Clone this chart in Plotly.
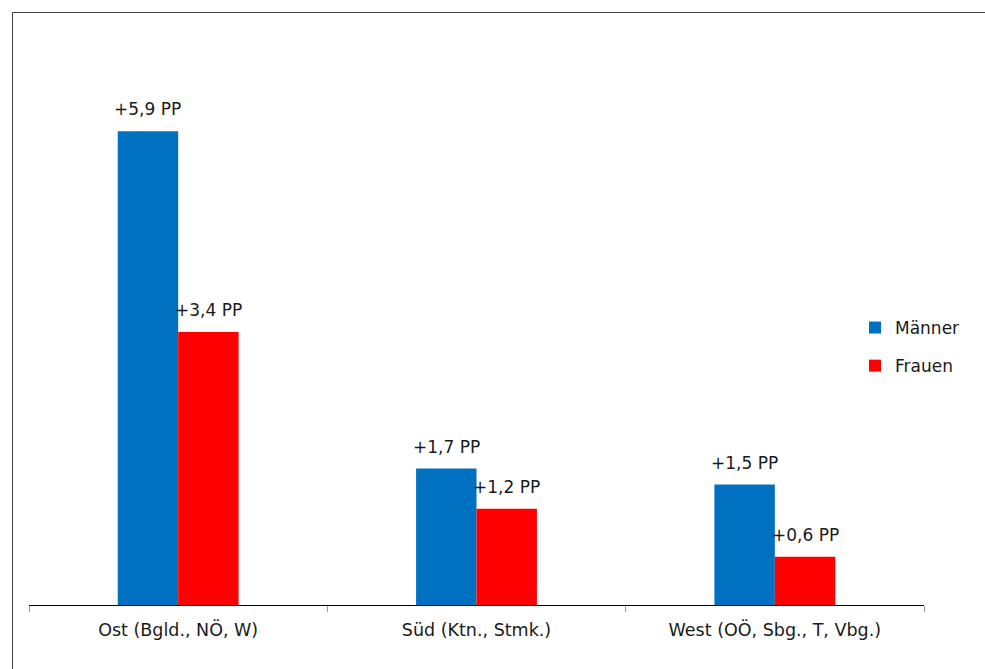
import plotly.graph_objects as go

regions = ["Ost (Bgld., NÖ, W)", "Süd (Ktn., Stmk.)", "West (OÖ, Sbg., T, Vbg.)"]
maenner = [5.9, 1.7, 1.5]
frauen = [3.4, 1.2, 0.6]


def pp_label(v):
    return "+" + f"{v:.1f}".replace(".", ",") + " PP"


FONT = "DejaVu Sans"
TEXT_COLOR = "#1a1a1a"
LABEL_SIZE = 17
AXIS_SIZE = 17.5
LEGEND_SIZE = 17

W, H = 985, 669
L, R, T, B = 29, 61, 43, 64
pw, ph = W - L - R, H - T - B
BARGAP = 0.595

fig = go.Figure()
fig.add_trace(go.Bar(
    x=regions, y=maenner, name="Männer",
    marker=dict(color="#0070C0", line=dict(width=0)),
    legendgroup="m",
))
fig.add_trace(go.Bar(
    x=regions, y=frauen, name="Frauen",
    marker=dict(color="#FF0000", line=dict(width=0)),
    legendgroup="f",
))

# value labels centred above each bar of the group
bar_px = pw / len(regions) * (1 - BARGAP) / 2
for series, offset in ((maenner, -bar_px / 2), (frauen, bar_px / 2)):
    for cat, v in zip(regions, series):
        fig.add_annotation(
            x=cat, y=v, text=pp_label(v), showarrow=False,
            xshift=offset, yshift=22, yanchor="middle", xanchor="center",
            font=dict(size=LABEL_SIZE, family=FONT, color=TEXT_COLOR),
        )


def px_x(x):
    return (x - L) / pw


def px_y(y):
    return (H - B - y) / ph


border = dict(color="#404040", width=1)
fig.add_shape(type="line", xref="paper", yref="paper",
              x0=px_x(12.5), x1=px_x(12.5), y0=px_y(12.5), y1=px_y(H + 2), line=border)
fig.add_shape(type="line", xref="paper", yref="paper",
              x0=px_x(12.5), x1=px_x(W + 2), y0=px_y(12.5), y1=px_y(12.5), line=border)

fig.update_layout(
    width=W, height=H,
    margin=dict(l=L, r=R, t=T, b=B),
    paper_bgcolor="white", plot_bgcolor="white",
    barmode="group", bargap=BARGAP, bargroupgap=0,
    font=dict(family=FONT, size=AXIS_SIZE, color=TEXT_COLOR),
    showlegend=True,
    legend=dict(
        x=px_x(855), y=px_y(310), xanchor="left", yanchor="top",
        font=dict(size=LEGEND_SIZE, family=FONT, color=TEXT_COLOR),
        itemwidth=30, traceorder="grouped", tracegroupgap=13,
        bgcolor="rgba(0,0,0,0)",
    ),
    xaxis=dict(
        type="category", showline=True, linecolor="#000000", linewidth=1,
        ticks="outside", tickson="boundaries", ticklen=6, tickcolor="#999999",
        tickfont=dict(size=AXIS_SIZE, family=FONT, color=TEXT_COLOR),
        ticklabelstandoff=9,
        showgrid=False, zeroline=False,
    ),
    yaxis=dict(
        range=[0, 7], visible=False, showgrid=False, zeroline=False,
    ),
)

fig.write_html("out.html")
